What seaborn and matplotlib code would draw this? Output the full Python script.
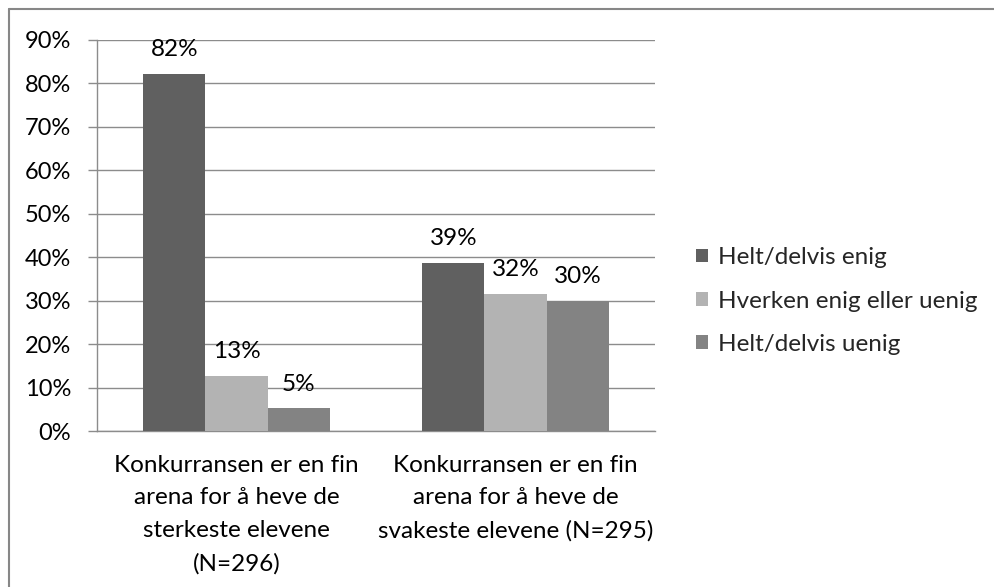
import matplotlib
matplotlib.use("Agg")
import matplotlib.pyplot as plt
import seaborn as sns
import pandas as pd
from matplotlib.lines import Line2D
from matplotlib.patches import Patch

categories = [
    "Konkurransen er en fin\narena for å heve de\nsterkeste elevene\n(N=296)",
    "Konkurransen er en fin\narena for å heve de\nsvakeste elevene (N=295)",
]
series = ["Helt/delvis enig", "Hverken enig eller uenig", "Helt/delvis uenig"]
values_enig = [82.2, 38.6]
values_hverken = [12.6, 31.6]
values_uenig = [5.2, 29.9]
colors = ["#606060", "#b3b3b3", "#838383"]
yticks = [0, 10, 20, 30, 40, 50, 60, 70, 80, 90]

rows = []
for s, vals in zip(series, [values_enig, values_hverken, values_uenig]):
    for c, v in zip(categories, vals):
        rows.append({"cat": c, "series": s, "value": v})
df = pd.DataFrame(rows)

sns.set_theme(style="white")
plt.rcParams["font.family"] = ["Lato", "DejaVu Sans"]
FS = 17.5

fig = plt.figure(figsize=(9.95, 5.87), dpi=100)
ax = fig.add_axes([97 / 995, 1 - 431 / 587, (655 - 97) / 995, (431 - 40) / 587])

sns.barplot(data=df, x="cat", y="value", hue="series", order=categories,
            hue_order=series, palette=colors, width=0.667, saturation=1,
            ax=ax, legend=False, zorder=3, linewidth=0)

for cont in ax.containers:
    ax.bar_label(cont, labels=[f"{v:.0f}%" for v in cont.datavalues],
                 padding=10, fontsize=FS, color="#000000")

ax.set_xlim(-0.5, 1.5)
ax.set_ylim(0, 90)
ax.set_yticks(yticks)
ax.set_yticklabels([f"{t}%" for t in yticks], fontsize=17, color="#000000")
ax.yaxis.grid(True, color="#8c8c8c", linewidth=1)
ax.set_axisbelow(True)
ax.set_xlabel("")
ax.set_ylabel("")
ax.set_xticks([0, 1])
ax.set_xticklabels(categories, fontsize=FS, color="#000000", linespacing=1.69)
ax.set_xticks([-0.5, 0.5, 1.5], minor=True)
ax.tick_params(axis="x", which="major", length=0, pad=17)
ax.tick_params(axis="x", which="minor", length=6.5, width=1, color="#8c8c8c", direction="out")
ax.tick_params(axis="y", length=6.5, width=1, color="#8c8c8c", direction="out", left=True, pad=12)
for side in ["top", "right"]:
    ax.spines[side].set_visible(False)
for side in ["left", "bottom"]:
    ax.spines[side].set_color("#8c8c8c")
    ax.spines[side].set_linewidth(1)

handles = [Patch(facecolor=c, edgecolor="none") for c in colors]
fig.legend(handles, series, loc="center left", bbox_to_anchor=(686 / 995, 1 - 301 / 587),
           frameon=False, fontsize=FS, handlelength=0.5, handleheight=0.5,
           handletextpad=0.4, labelspacing=0.92, borderaxespad=0)

# chart-area border (only top and left edges visible in the reference)
fig.lines.append(Line2D([8.5 / 995, 8.5 / 995], [0, 1 - 8.5 / 587], transform=fig.transFigure,
                        color="#878787", linewidth=1.5))
fig.lines.append(Line2D([8.5 / 995, 1], [1 - 8.5 / 587, 1 - 8.5 / 587], transform=fig.transFigure,
                        color="#878787", linewidth=1.5))

fig.savefig("out.png", dpi=100, facecolor="white")
